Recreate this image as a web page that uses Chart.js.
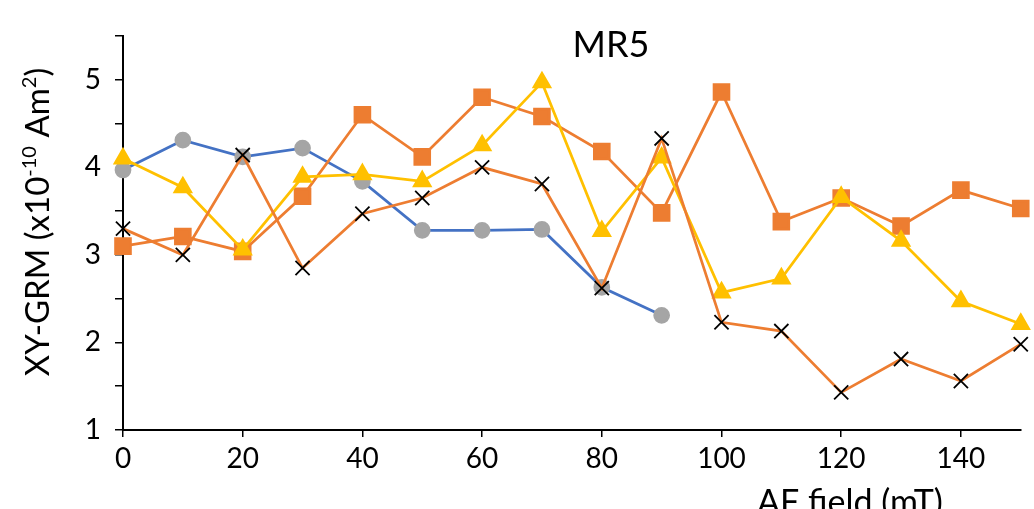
<!DOCTYPE html>
<html>
<head>
<meta charset="utf-8">
<script src="https://cdn.jsdelivr.net/npm/chart.js@4"></script>
<style>
  body { margin: 0; background: #fff; }
  #wrap { width: 1034px; height: 509px; }
</style>
</head>
<body>
<div id="wrap"><canvas id="grmChart" width="1034" height="509"></canvas></div>
<script>
// AF field steps (mT) and the four XY-GRM series
var afField = [0, 10, 20, 30, 40, 50, 60, 70, 80, 90, 100, 110, 120, 130, 140, 150];
var circleVals = [3.97, 4.31, 4.12, 4.22, 3.84, 3.28, 3.28, 3.29, 2.63, 2.31];
var squareVals = [3.10, 3.21, 3.04, 3.67, 4.60, 4.12, 4.80, 4.58, 4.18, 3.48, 4.86, 3.38, 3.65, 3.33, 3.74, 3.53];
var triangleVals = [4.10, 3.77, 3.06, 3.89, 3.92, 3.84, 4.25, 4.97, 3.27, 4.11, 2.57, 2.73, 3.66, 3.16, 2.47, 2.21];
var crossVals = [3.30, 3.00, 4.14, 2.85, 3.47, 3.65, 4.00, 3.81, 2.62, 4.33, 2.23, 2.13, 1.43, 1.81, 1.56, 1.98];
var xTicks = [0, 20, 40, 60, 80, 100, 120, 140];
var yTicks = [1, 2, 3, 4, 5];

var FONT = "Lato";

function toPoints(vals) {
  return vals.map(function (v, i) { return { x: afField[i], y: v }; });
}

// draws the title and the two axis captions (superscripts need manual drawing)
var captions = {
  id: 'captions',
  afterDraw: function (chart) {
    var ctx = chart.ctx;
    ctx.save();
    ctx.fillStyle = '#000';
    ctx.textBaseline = 'alphabetic';

    // title inside the plot
    ctx.font = '36px ' + FONT;
    ctx.textAlign = 'center';
    ctx.fillText('MR5', 611, 57);

    // x axis caption, partly cut by the bottom edge
    ctx.font = '34px ' + FONT;
    ctx.fillText('AF field (mT)', 850, 514);

    // y axis caption, rotated, with superscripts
    var parts = [
      { t: 'XY-GRM (x10', sup: false },
      { t: '-10', sup: true },
      { t: ' Am', sup: false },
      { t: '2', sup: true },
      { t: ')', sup: false }
    ];
    var total = 0;
    parts.forEach(function (p) {
      ctx.font = (p.sup ? '20px ' : '33px ') + FONT;
      p.w = ctx.measureText(p.t).width;
      total += p.w;
    });
    ctx.translate(49, 222);
    ctx.rotate(-Math.PI / 2);
    ctx.textAlign = 'left';
    var x = -total / 2;
    parts.forEach(function (p) {
      ctx.font = (p.sup ? '20px ' : '33px ') + FONT;
      ctx.fillText(p.t, x, p.sup ? -13 : 0);
      x += p.w;
    });
    ctx.restore();
  }
};

new Chart(document.getElementById('grmChart'), {
  type: 'line',
  data: {
    datasets: [
      {
        data: toPoints(crossVals),
        borderColor: '#ED7D31',
        borderWidth: 2.75,
        pointStyle: 'crossRot',
        pointRadius: 10,
        pointBorderColor: '#000',
        pointBorderWidth: 1.8,
        clip: false,
        order: 0
      },
      {
        data: toPoints(triangleVals),
        borderColor: '#FFC000',
        backgroundColor: '#FFC000',
        borderWidth: 2.75,
        pointStyle: 'triangle',
        pointRadius: 9,
        pointBackgroundColor: '#FFC000',
        pointBorderColor: '#FFC000',
        clip: false,
        order: 1
      },
      {
        data: toPoints(squareVals),
        borderColor: '#ED7D31',
        backgroundColor: '#ED7D31',
        borderWidth: 2.75,
        pointStyle: 'rect',
        pointRadius: 10.5,
        pointBackgroundColor: '#ED7D31',
        pointBorderColor: '#ED7D31',
        clip: false,
        order: 2
      },
      {
        data: toPoints(circleVals),
        borderColor: '#4472C4',
        backgroundColor: '#A5A5A5',
        borderWidth: 2.75,
        pointStyle: 'circle',
        pointRadius: 7,
        pointBackgroundColor: '#A5A5A5',
        pointBorderColor: '#A5A5A5',
        clip: false,
        order: 3
      }
    ]
  },
  options: {
    responsive: false,
    animation: false,
    events: [],
    layout: { padding: { top: 36, right: 11, left: 0, bottom: 0 } },
    plugins: {
      legend: { display: false },
      tooltip: { enabled: false },
      title: { display: false }
    },
    elements: { line: { tension: 0 } },
    scales: {
      x: {
        type: 'linear',
        min: 0,
        max: 150,
        afterBuildTicks: function (scale) {
          scale.ticks = xTicks.map(function (v) { return { value: v }; });
        },
        afterFit: function (scale) { scale.height = 79; },
        grid: { display: true, drawOnChartArea: false, drawTicks: true, tickLength: 7, color: '#000', lineWidth: 1.5 },
        border: { display: true, color: '#000', width: 2 },
        ticks: { color: '#000', font: { family: FONT, size: 28 }, padding: 5, maxRotation: 0 }
      },
      y: {
        type: 'linear',
        min: 1,
        max: 5.5,
        afterFit: function (scale) { scale.width = 123; },
        grid: { display: true, drawOnChartArea: false, drawTicks: true, tickLength: 8, color: '#000', lineWidth: 1.5 },
        border: { display: true, color: '#000', width: 2 },
        ticks: {
          stepSize: 0.5,
          color: '#000',
          font: { family: FONT, size: 28 },
          padding: 14,
          callback: function (v) { return yTicks.indexOf(v) >= 0 ? String(v) : ''; }
        }
      }
    }
  },
  plugins: [captions]
});
</script>
</body>
</html>
